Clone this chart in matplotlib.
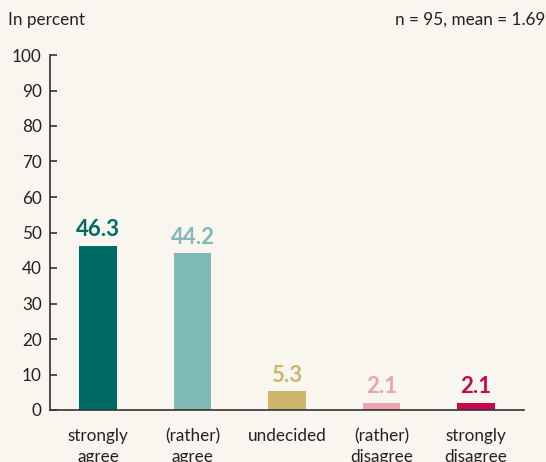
import matplotlib
matplotlib.use("Agg")
import matplotlib.pyplot as plt

categories = ["strongly\nagree", "(rather)\nagree", "undecided", "(rather)\ndisagree", "strongly\ndisagree"]
values = [46.3, 44.2, 5.3, 2.1, 2.1]
colors = ["#006b64", "#7fbab7", "#cdb56b", "#eca4b5", "#c8084f"]
yticks = list(range(0, 101, 10))

plt.rcParams['font.family'] = ['Lato', 'DejaVu Sans']
bg = "#f9f6ef"
fig = plt.figure(figsize=(5.46, 4.62), dpi=100, facecolor=bg)
ax = fig.add_axes([50/546, 1-410/462, (524-50)/546, (410-55)/462], facecolor=bg)

x = list(range(len(categories)))
ax.bar(x, values, width=0.40, color=colors, zorder=2)
for xi, v, c in zip(x, values, colors):
    ax.annotate(f"{v:.1f}", (xi, v), xytext=(0, 4), textcoords="offset points",
                ha="center", va="bottom", color=c, fontsize=16, fontweight="bold")

ax.set_xlim(-0.51, 4.51)
ax.set_ylim(0, 100)
ax.set_yticks(yticks)
ax.set_xticks(x)
ax.set_xticklabels(categories, fontsize=12.3, color="#222222", linespacing=1.35)
ax.tick_params(axis='x', length=0, pad=13)
ax.tick_params(axis='y', direction='in', length=5, width=1.2, color="#333333",
               labelsize=12.3, labelcolor="#222222", pad=6)
for s in ['top', 'right']:
    ax.spines[s].set_visible(False)
for s in ['left', 'bottom']:
    ax.spines[s].set_color("#333333")
    ax.spines[s].set_linewidth(1.2)

fig.text(8/546, 1-20/462, "In percent", fontsize=12.3, color="#222222", va="center", ha="left")
fig.text(545/546, 1-20/462, "n = 95, mean = 1.69", fontsize=12.3, color="#222222", va="center", ha="right")

fig.savefig("out.png", dpi=100, facecolor=bg)
